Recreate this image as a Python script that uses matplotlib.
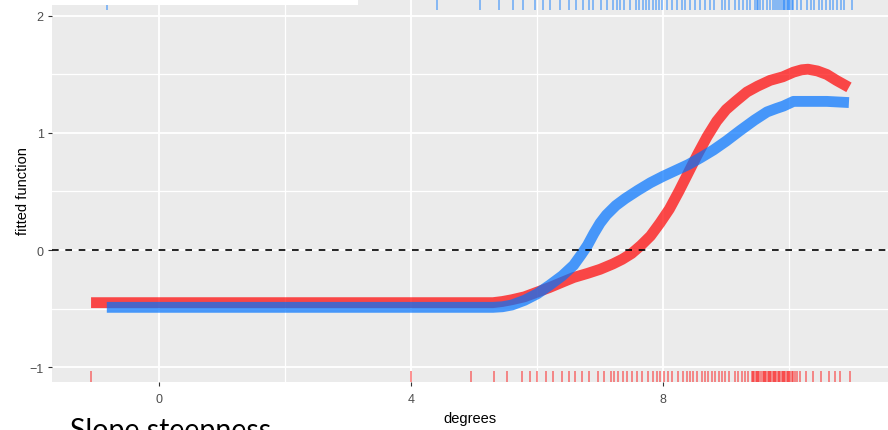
import numpy as np
import matplotlib.pyplot as plt
from matplotlib.patches import Rectangle

# fitted smooths (degrees -> fitted function)
red_x = [-1.08, 5.3, 5.45, 5.6, 5.8, 6.0, 6.2, 6.4, 6.58, 6.8, 7.0, 7.2, 7.35, 7.5,
         7.65, 7.8, 7.95, 8.1, 8.25, 8.4, 8.55, 8.7, 8.85, 9.0, 9.15, 9.33, 9.5, 9.7,
         9.9, 10.07, 10.2, 10.3, 10.45, 10.6, 10.75, 10.95]
red_y = [-0.45, -0.45, -0.44, -0.425, -0.40, -0.36, -0.32, -0.275, -0.235, -0.20,
         -0.165, -0.12, -0.08, -0.03, 0.04, 0.12, 0.23, 0.35, 0.50, 0.66, 0.82, 0.97,
         1.10, 1.20, 1.27, 1.35, 1.40, 1.45, 1.48, 1.52, 1.54, 1.545, 1.53, 1.50,
         1.45, 1.39]

blue_x = [-0.83, 5.3, 5.45, 5.6, 5.8, 6.0, 6.2, 6.4, 6.58, 6.7, 6.8, 6.9, 7.0, 7.1,
          7.25, 7.4, 7.6, 7.8, 8.0, 8.2, 8.4, 8.6, 8.8, 9.0, 9.22, 9.45, 9.65, 9.8,
          9.91, 10.07, 10.3, 10.6, 10.95]
blue_y = [-0.49, -0.49, -0.485, -0.47, -0.43, -0.375, -0.30, -0.22, -0.13, -0.04,
          0.04, 0.14, 0.23, 0.30, 0.38, 0.44, 0.51, 0.575, 0.63, 0.68, 0.73, 0.79,
          0.855, 0.93, 1.02, 1.11, 1.18, 1.21, 1.23, 1.27, 1.27, 1.27, 1.26]

# rug positions (observations)
red_rug = [-1.08, 4.0, 4.95, 5.32, 5.53, 5.76, 5.88, 6.0, 6.14, 6.26, 6.39, 6.50, 6.60,
           6.71, 6.83, 6.96, 7.06, 7.17, 7.22, 7.29, 7.36, 7.42, 7.50, 7.59, 7.66, 7.76,
           7.84, 7.90, 7.95, 8.02, 8.07, 8.14, 8.24, 8.32, 8.38, 8.43, 8.48, 8.54, 8.61,
           8.67, 8.72, 8.77, 8.83, 8.88, 8.93, 8.98, 9.04, 9.14, 9.19, 9.25, 9.30, 9.35,
           9.41, 9.43, 9.45, 9.47, 9.49, 9.51, 9.53, 9.55, 9.58, 9.60, 9.62, 9.64, 9.66,
           9.68, 9.70, 9.72, 9.74, 9.76, 9.78, 9.80, 9.82, 9.84, 9.86, 9.88, 9.90, 9.92,
           9.94, 9.96, 9.98, 10.00, 10.02, 10.04, 10.06, 10.09, 10.13, 10.17, 10.27,
           10.38, 10.50, 10.64, 10.73, 10.81, 10.97]
blue_rug = [-0.83, 4.41, 5.10, 5.39, 5.61, 5.77, 5.96, 6.10, 6.21, 6.37, 6.51, 6.61, 6.73,
            6.83, 6.89, 7.01, 7.11, 7.20, 7.27, 7.31, 7.38, 7.48, 7.57, 7.62, 7.68, 7.73,
            7.78, 7.84, 7.88, 7.94, 7.98, 8.06, 8.14, 8.22, 8.30, 8.35, 8.43, 8.51, 8.59,
            8.66, 8.75, 8.81, 8.93, 8.98, 9.05, 9.14, 9.21, 9.27, 9.33, 9.38, 9.46, 9.49,
            9.51, 9.54, 9.59, 9.65, 9.70, 9.75, 9.78, 9.81, 9.84, 9.87, 9.90, 9.92, 9.94,
            9.96, 9.98, 10.00, 10.02, 10.04, 10.06, 10.12, 10.19, 10.28, 10.34, 10.40,
            10.47, 10.53, 10.59, 10.65, 10.70, 10.76, 10.83, 10.87, 11.0]

RED = "#FF0000"
BLUE = "#0073FF"

plt.rcParams["font.family"] = ["Liberation Sans", "DejaVu Sans"]

fig = plt.figure(figsize=(8.88, 4.31), dpi=100)
ax = fig.add_axes([52 / 888, 1 - 383 / 431, 1 - 52 / 888, 383 / 431])
ax.set_facecolor("#EBEBEB")
for s in ax.spines.values():
    s.set_visible(False)

ax.set_xlim(-1.70, 11.57)
ax.set_ylim(-1.128, 2.145)

# ggplot-like grid
for v in [0, 4, 8]:
    ax.axvline(v, color="white", lw=1.3, zorder=0)
for v in [2, 6, 10]:
    ax.axvline(v, color="white", lw=0.9, zorder=0)
for v in [-1, 0, 1, 2]:
    ax.axhline(v, color="white", lw=1.3, zorder=0)
for v in [-0.5, 0.5, 1.5]:
    ax.axhline(v, color="white", lw=0.9, zorder=0)

ax.plot(red_x, red_y, color=RED, alpha=0.7, lw=7.8, solid_capstyle="butt",
        solid_joinstyle="round", zorder=3)
ax.plot(blue_x, blue_y, color=BLUE, alpha=0.7, lw=7.8, solid_capstyle="butt",
        solid_joinstyle="round", zorder=4)

ax.axhline(0, color="black", lw=1.2, ls=(0, (4, 4)), zorder=5)

# rugs: bottom (red) and top (blue)
xt = ax.get_xaxis_transform()
ax.vlines(red_rug, 0, 0.03, transform=xt, color=RED, alpha=0.55, lw=1.1, zorder=2)
ax.vlines(blue_rug, 0.97, 1.0, transform=xt, color=BLUE, alpha=0.55, lw=1.1, zorder=2)

ax.set_xticks([0, 4, 8])
ax.set_yticks([-1, 0, 1, 2])
ax.tick_params(colors="#333333", length=3, width=0.8, labelsize=9,
               labelcolor="#4D4D4D", pad=3)
ax.tick_params(axis="x", pad=5)
ax.set_xlabel("degrees", fontsize=10.5, color="black")
ax.set_ylabel("fitted function", fontsize=10.5, color="black")
ax.xaxis.set_label_coords(0.5, -36 / 383)
ax.xaxis.label.set_va("center")
ax.yaxis.set_label_coords(-29 / 836, 0.5)
ax.yaxis.label.set_va("center")

# white box covering the top-left corner
fig.patches.append(Rectangle((52 / 888, 1 - 6 / 431), (358 - 52) / 888, 6 / 431,
                             transform=fig.transFigure, facecolor="white",
                             edgecolor="none", zorder=10))

fig.text(70 / 888, -8 / 431, "Slope steepness", fontsize=20.5, family="Lato",
         color="black", ha="left", va="baseline")

fig.savefig("out.png", dpi=100)
